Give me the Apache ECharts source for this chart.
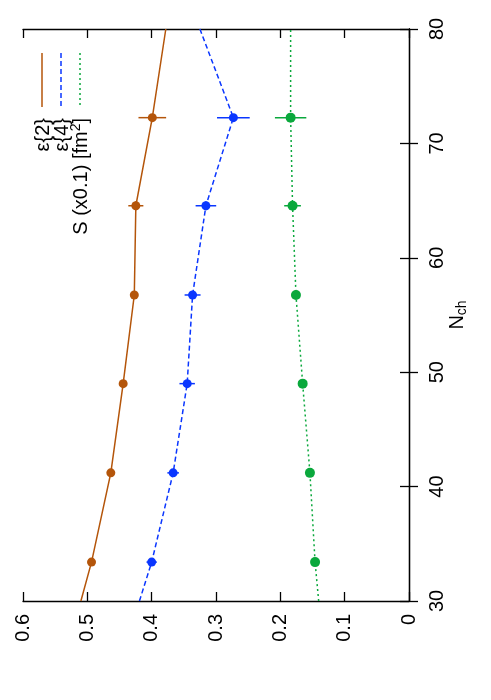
<!DOCTYPE html>
<html><head><meta charset="utf-8">
<script src="https://cdn.jsdelivr.net/npm/echarts@6/dist/echarts.min.js"></script>
<style>html,body{margin:0;padding:0;background:#fff}#c{width:491px;height:700px}</style>
</head><body><div id="c"></div>
<script>
// N_ch bins (vertical axis)
var nch = [33.4, 41.2, 49.0, 56.75, 64.55, 72.25];
var nchErr = [0.3, 0.3, 0.3, 0.35, 0.4, 0.3];
// eccentricities and area
var eps2 = [0.4935, 0.4635, 0.4443, 0.427, 0.4246, 0.399];
var eps2Err = [0.003, 0.003, 0.004, 0.005, 0.0117, 0.0215];
var eps4 = [0.400, 0.3666, 0.3448, 0.3364, 0.3157, 0.273];
var eps4Err = [0.008, 0.009, 0.012, 0.0124, 0.016, 0.0254];
var sArea = [0.146, 0.154, 0.1653, 0.1757, 0.181, 0.184];
var sAreaErr = [0.003, 0.003, 0.004, 0.005, 0.013, 0.0244];
// curve end values at N_ch = 30 and 80
var curveN = [30, 80];
var eps2Ends = [0.510, 0.378];
var eps4Ends = [0.419, 0.325];
var sAreaEnds = [0.1404, 0.184];
var valueTicks = [0, 0.1, 0.2, 0.3, 0.4, 0.5, 0.6];
var nTicks = [30, 40, 50, 60, 70, 80];

var FONT = '"Liberation Sans", Arial, sans-serif';
var colors = ['#b4550a', '#0a36ff', '#0aa83c'];
var names = ['ε{2}', 'ε{4}', 'S (x0.1) [fm²]'];
var sets = [[eps2, eps2Err, eps2Ends], [eps4, eps4Err, eps4Ends], [sArea, sAreaErr, sAreaEnds]];
var dashes = ['solid', [5, 3], [2, 3]];

var chart = echarts.init(document.getElementById('c'));
var series = [];
sets.forEach(function (s, k) {
  var line = [[s[2][0], curveN[0]]];
  for (var i = 0; i < nch.length; i++) line.push([s[0][i], nch[i]]);
  line.push([s[2][1], curveN[1]]);
  series.push({
    type: 'line', name: names[k], data: line, showSymbol: false, symbol: 'none',
    lineStyle: {color: colors[k], width: 1.5, type: dashes[k], opacity: 1}, z: 2, silent: true
  });
});
sets.forEach(function (s, k) {
  var d = [];
  for (var i = 0; i < nch.length; i++) d.push([s[0][i], nch[i], s[1][i], nchErr[i]]);
  series.push({
    type: 'custom', data: d, z: 3, silent: true,
    renderItem: function (params, api) {
      var v = api.value(0), n = api.value(1), ev = api.value(2), en = api.value(3);
      var a = api.coord([v - ev, n]), b = api.coord([v + ev, n]);
      var c = api.coord([v, n - en]), e = api.coord([v, n + en]);
      return {type: 'group', children: [
        {type: 'line', shape: {x1: a[0], y1: a[1], x2: b[0], y2: b[1]}, style: {stroke: colors[k], lineWidth: 1.5}},
        {type: 'line', shape: {x1: c[0], y1: c[1], x2: e[0], y2: e[1]}, style: {stroke: colors[k], lineWidth: 1.5}}
      ]};
    }
  });
  series.push({
    type: 'scatter', data: d.map(function (p) { return [p[0], p[1]]; }),
    symbol: 'circle', symbolSize: k === 2 ? 10 : 9, itemStyle: {color: colors[k], opacity: 1}, z: 4, silent: true
  });
});

var axisCommonX = {
  type: 'value', min: 0, max: 0.6, interval: 0.1, inverse: true,
  axisLine: {show: true, lineStyle: {color: '#000', width: 1.3}},
  axisTick: {show: true, inside: true, length: 9, lineStyle: {color: '#000', width: 1.3}},
  splitLine: {show: false}
};
var axisCommonY = {
  type: 'value', min: 30, max: 80, interval: 10,
  axisLine: {show: true, lineStyle: {color: '#000', width: 1.3}},
  axisTick: {show: true, inside: true, length: 9, lineStyle: {color: '#000', width: 1.3}},
  splitLine: {show: false}
};

chart.setOption({
  animation: false,
  backgroundColor: '#fff',
  grid: {left: 23, right: 82, top: 29, bottom: 99, containLabel: false},
  xAxis: [
    Object.assign({}, axisCommonX, {position: 'bottom',
      axisLabel: {rotate: 90, fontSize: 20, color: '#000', margin: 13, fontFamily: FONT,
        formatter: function (v) { return String(+v.toFixed(1)); }}}),
    Object.assign({}, axisCommonX, {position: 'top', axisLabel: {show: false}})
  ],
  yAxis: [
    Object.assign({}, axisCommonY, {position: 'right',
      axisLabel: {rotate: 90, fontSize: 20, color: '#000', margin: 18, fontFamily: FONT},
      name: '{n|N}{s|ch}', nameLocation: 'middle', nameRotate: 90, nameGap: 36, nameMoveOverlap: false,
      nameTextStyle: {color: '#000', fontFamily: FONT,
        rich: {n: {fontSize: 20, color: '#000', fontFamily: FONT},
               s: {fontSize: 14, color: '#000', fontFamily: FONT, verticalAlign: 'bottom', padding: [10, 0, 0, 0]}}}}),
    Object.assign({}, axisCommonY, {position: 'left', axisLabel: {show: false}})
  ],
  series: series,
  graphic: [
    {type: 'line', shape: {x1: 42, y1: 53, x2: 42, y2: 107}, style: {stroke: colors[0], lineWidth: 1.5}},
    {type: 'line', shape: {x1: 61, y1: 53, x2: 61, y2: 107}, style: {stroke: colors[1], lineWidth: 1.5, lineDash: [5, 3]}},
    {type: 'line', shape: {x1: 80, y1: 53, x2: 80, y2: 107}, style: {stroke: colors[2], lineWidth: 1.5, lineDash: [2, 3]}},
    {type: 'text', x: 43, y: 118, rotation: Math.PI / 2,
      style: {text: 'ε{2}', fill: '#000', fontSize: 20, fontFamily: FONT, align: 'right', verticalAlign: 'middle'}},
    {type: 'text', x: 62, y: 118, rotation: Math.PI / 2,
      style: {text: 'ε{4}', fill: '#000', fontSize: 20, fontFamily: FONT, align: 'right', verticalAlign: 'middle'}},
    {type: 'text', x: 81, y: 118, rotation: Math.PI / 2,
      style: {text: '{t|S (x0.1) [fm}{p|2}{t|]}', fill: '#000', align: 'right', verticalAlign: 'middle',
        rich: {t: {fontSize: 20, fontFamily: FONT, fill: '#000'},
               p: {fontSize: 14, fontFamily: FONT, fill: '#000', verticalAlign: 'top', padding: [0, 0, 10, 0]}}}}
  ]
});
</script></body></html>
